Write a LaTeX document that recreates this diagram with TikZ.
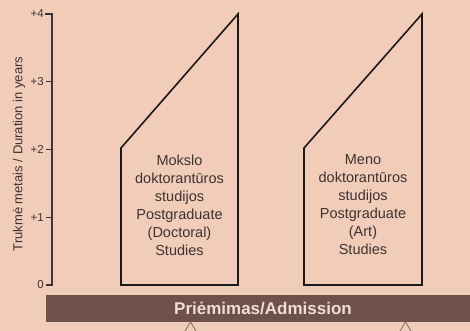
\documentclass[tikz,border=0pt]{standalone}
\usepackage{fontspec}
\setmainfont{Liberation Sans}
\usepackage{tikz}
\usetikzlibrary{positioning}
\definecolor{paper}{RGB}{241,204,184}
\definecolor{barbrown}{RGB}{110,82,74}
\definecolor{axisgrey}{RGB}{62,52,50}
\definecolor{bartext}{RGB}{238,222,214}

\begin{document}
\begin{tikzpicture}
[x=1pt, y=1pt,
% STYLES
% The study style is used to draw the text inside each block
study/.style={align=center, font=\fontsize{14.5}{18}\selectfont, text=axisgrey, inner sep=0pt},
% The block style is used to draw the outline of each block
block/.style={draw=black!90, line width=1.6pt, line join=miter},
% The tick style is used for the year labels
ticklabel/.style={font=\fontsize{11.5}{12}\selectfont, text=axisgrey, inner sep=1pt},
admission/.style={fill=barbrown, draw=none}]

% Background
\fill[paper] (0,0) rectangle (470,331);
\useasboundingbox (0,0) rectangle (470,331);

% Draw the axis
\draw[axisgrey, line width=1.3pt] (46,46) -- (52,46) -- (52,317) -- (45,317);
\foreach \n/\y in {0/46, 1/113.75, 2/181.5, 3/249.25}
  \draw[axisgrey, line width=1.1pt] (46,\y) -- (52,\y);
\node[ticklabel, anchor=east] (t0) at (45,46) {0};
\node[ticklabel, anchor=east] (t1) at (45,113.75) {+1};
\node[ticklabel, anchor=east] (t2) at (45,181.5) {+2};
\node[ticklabel, anchor=east] (t3) at (45,249.25) {+3};
\node[ticklabel, anchor=east] (t4) at (45,317) {+4};
\node[font=\fontsize{13}{14}\selectfont, text=axisgrey, rotate=90] (axistitle) at (19,177) {Trukmė metais / Duration in years};

% Draw the blocks
\draw[block] (121,46) -- (238,46) -- (238,317) -- (121,183) -- cycle;
\draw[block] (304,46) -- (422,46) -- (422,317) -- (304,183) -- cycle;

% Change data from here
\node[study] (doctoral) at (179.5,126) {Mokslo\\doktorantūros\\studijos\\Postgraduate\\(Doctoral)\\Studies};
\node[study] (art) at (363,126) {Meno\\doktorantūros\\studijos\\Postgraduate\\(Art)\\Studies};

% Admission bar
\fill[admission] (46,9) rectangle (470,36);
\node[text=bartext, font=\bfseries\fontsize{17}{18}\selectfont] (admit) at (263,22.5) {Priėmimas/Admission};

% Peaks below the bar
\draw[axisgrey!70, line width=0.8pt] (185,0) -- (190.5,9) -- (196,0);
\draw[axisgrey!70, line width=0.8pt] (400,0) -- (405.5,9) -- (411,0);

\end{tikzpicture}
\end{document}
